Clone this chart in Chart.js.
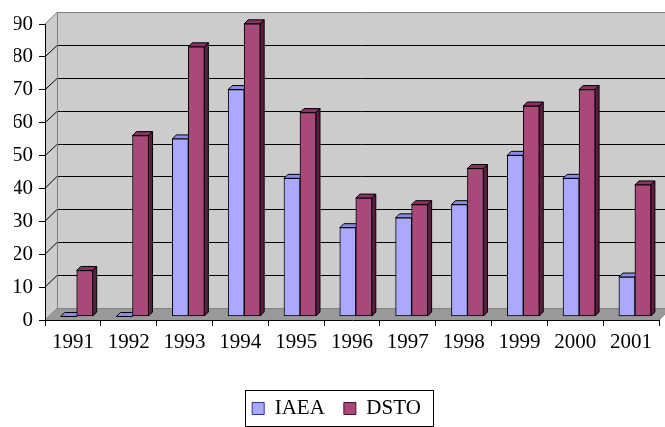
<!DOCTYPE html>
<html>
<head>
<meta charset="utf-8">
<script src="https://cdn.jsdelivr.net/npm/chart.js@4/dist/chart.umd.min.js"></script>
<style>
  html, body { margin: 0; padding: 0; background: #ffffff; }
  #wrap { width: 665px; height: 427px; }
</style>
</head>
<body>
<div id="wrap"><canvas id="chart" width="665" height="427"></canvas></div>
<script>
// Yearly counts per organisation
const years = ['1991', '1992', '1993', '1994', '1995', '1996', '1997', '1998', '1999', '2000', '2001'];
const iaea  = [0, 0, 54, 69, 42, 27, 30, 34, 49, 42, 12];
const dsto  = [14, 55, 82, 89, 62, 36, 34, 45, 64, 69, 40];

// Value axis
const yMin = 0;
const yMax = 90;
const yStep = 10;

// 3D projection: full depth of the floor, and where the bars stand inside it
const WALL = { dx: 12, dy: 11.5 };
const BAR_FRONT = { dx: 3.8, dy: 3.5 };
const BAR_DEPTH = { dx: 4, dy: 4 };

const SERIES_STYLE = [
  { front: '#a9aaff', top: '#8b8be0', side: '#6d6dbb', legendStroke: '#333399' },
  { front: '#a8497a', top: '#8a3262', side: '#5c1e40', legendStroke: '#40102a' }
];

const FONT = { family: "'Liberation Serif', 'Times New Roman', serif", size: 21 };

function crisp(v) { return Math.round(v - 0.5) + 0.5; }

// Back wall, side wall, floor and wall gridlines
const wallsPlugin = {
  id: 'walls',
  beforeDraw(chart) {
    const { ctx, chartArea: a, scales: { y } } = chart;
    const L = a.left, R = a.right;
    const B = y.getPixelForValue(yMin);
    const T = y.getPixelForValue(yMax);
    const dx = WALL.dx, dy = WALL.dy;
    ctx.save();
    // back wall
    ctx.fillStyle = '#cccccc';
    ctx.fillRect(L + dx, T - dy, R - L + 20, B - T);
    // side wall
    ctx.beginPath();
    ctx.moveTo(L, B); ctx.lineTo(L, T); ctx.lineTo(L + dx, T - dy); ctx.lineTo(L + dx, B - dy);
    ctx.closePath();
    ctx.fill();
    // floor
    ctx.fillStyle = '#999999';
    ctx.beginPath();
    ctx.moveTo(L, B); ctx.lineTo(R, B); ctx.lineTo(R + dx, B - dy); ctx.lineTo(L + dx, B - dy);
    ctx.closePath();
    ctx.fill();
    ctx.strokeStyle = '#808080';
    ctx.lineWidth = 1;
    ctx.beginPath();
    ctx.moveTo(R, B); ctx.lineTo(R + dx, B - dy);
    ctx.moveTo(L, B); ctx.lineTo(L + dx, B - dy);
    ctx.stroke();
    // gridlines
    for (let v = yMin + yStep; v < yMax; v += yStep) {
      const p = y.getPixelForValue(v);
      const yb = crisp(p - dy);
      ctx.strokeStyle = '#000000';
      ctx.beginPath();
      ctx.moveTo(L, p); ctx.lineTo(L + dx, yb);
      ctx.lineTo(R + dx + 20, yb);
      ctx.stroke();
    }
    // wall edges
    const yTop = crisp(T - dy);
    const yBot = crisp(B - dy);
    ctx.strokeStyle = '#808080';
    ctx.beginPath();
    ctx.moveTo(L, T); ctx.lineTo(L + dx, yTop); ctx.lineTo(R + dx + 20, yTop);
    ctx.moveTo(crisp(L + dx), yTop); ctx.lineTo(crisp(L + dx), yBot);
    ctx.moveTo(L + dx, yBot); ctx.lineTo(R + dx + 20, yBot);
    ctx.stroke();
    ctx.restore();
  }
};

// Top and side faces of every bar, drawn before the library paints the front faces
const barFacesPlugin = {
  id: 'barFaces',
  beforeDatasetsDraw(chart) {
    const ctx = chart.ctx;
    ctx.save();
    ctx.translate(BAR_FRONT.dx, -BAR_FRONT.dy);
    ctx.lineWidth = 1;
    ctx.strokeStyle = '#000000';
    chart.data.datasets.forEach((ds, i) => {
      const meta = chart.getDatasetMeta(i);
      if (meta.hidden) return;
      const st = SERIES_STYLE[i];
      meta.data.forEach(bar => {
        const { x, y, base, width } = bar.getProps(['x', 'y', 'base', 'width'], true);
        const l = x - width / 2, r = x + width / 2;
        const t = Math.min(y, base), b = Math.max(y, base);
        const ox = BAR_DEPTH.dx, oy = BAR_DEPTH.dy;
        // top face
        ctx.fillStyle = st.top;
        ctx.beginPath();
        ctx.moveTo(l, t); ctx.lineTo(l + ox, t - oy); ctx.lineTo(r + ox, t - oy); ctx.lineTo(r, t);
        ctx.closePath();
        ctx.fill(); ctx.stroke();
        // side face
        if (b - t > 0.5) {
          ctx.fillStyle = st.side;
          ctx.beginPath();
          ctx.moveTo(r, t); ctx.lineTo(r + ox, t - oy); ctx.lineTo(r + ox, b - oy); ctx.lineTo(r, b);
          ctx.closePath();
          ctx.fill(); ctx.stroke();
        }
      });
    });
    ctx.restore();
  },
  beforeDatasetDraw(chart) {
    chart.ctx.save();
    chart.ctx.translate(BAR_FRONT.dx, -BAR_FRONT.dy);
  },
  afterDatasetDraw(chart) {
    chart.ctx.restore();
  }
};

// Frame around the legend
const legendFramePlugin = {
  id: 'legendFrame',
  afterDraw(chart) {
    const hb = chart.legend && chart.legend.legendHitBoxes;
    if (!hb || !hb.length) return;
    const first = hb[0], last = hb[hb.length - 1];
    const cy = first.top + first.height / 2;
    const ctx = chart.ctx;
    ctx.save();
    ctx.strokeStyle = '#000000';
    ctx.lineWidth = 1;
    const l = crisp(first.left - 7), r = crisp(last.left + last.width + 13);
    const t = crisp(cy - 18), b = crisp(cy + 18);
    ctx.strokeRect(l, t, r - l, b - t);
    ctx.restore();
  }
};

new Chart(document.getElementById('chart'), {
  type: 'bar',
  data: {
    labels: years,
    datasets: [
      { label: 'IAEA', data: iaea, backgroundColor: SERIES_STYLE[0].front, borderColor: '#000000', borderWidth: 1, borderSkipped: false, clip: false },
      { label: 'DSTO', data: dsto, backgroundColor: SERIES_STYLE[1].front, borderColor: '#000000', borderWidth: 1, borderSkipped: false, clip: false }
    ]
  },
  options: {
    responsive: false,
    animation: false,
    devicePixelRatio: 1,
    barThickness: 16,
    layout: { padding: { top: 24, right: 6, left: 14, bottom: 0 } },
    scales: {
      x: {
        grid: { drawOnChartArea: false, drawTicks: true, tickLength: 6, color: '#000000', offset: true },
        border: { display: true, color: '#000000' },
        ticks: { color: '#000000', font: FONT, padding: 4, maxRotation: 0, autoSkip: false },
        afterFit(scale) { scale.height = 59; }
      },
      y: {
        min: yMin,
        max: yMax,
        grid: { drawOnChartArea: false, drawTicks: true, tickLength: 6, color: '#000000' },
        border: { display: true, color: '#000000' },
        ticks: { stepSize: yStep, color: '#000000', font: FONT, padding: 6 },
        afterFit(scale) { scale.width = 31; }
      }
    },
    plugins: {
      tooltip: { enabled: false },
      legend: {
        position: 'bottom',
        maxHeight: 48,
        labels: {
          font: FONT,
          color: '#000000',
          boxWidth: 12,
          boxHeight: 12,
          padding: 19,
          generateLabels(chart) {
            const items = Chart.defaults.plugins.legend.labels.generateLabels(chart);
            items.forEach((it, i) => { it.strokeStyle = SERIES_STYLE[i].legendStroke; it.lineWidth = 1; });
            return items;
          }
        }
      }
    }
  },
  plugins: [wallsPlugin, barFacesPlugin, legendFramePlugin]
});
</script>
</body>
</html>
